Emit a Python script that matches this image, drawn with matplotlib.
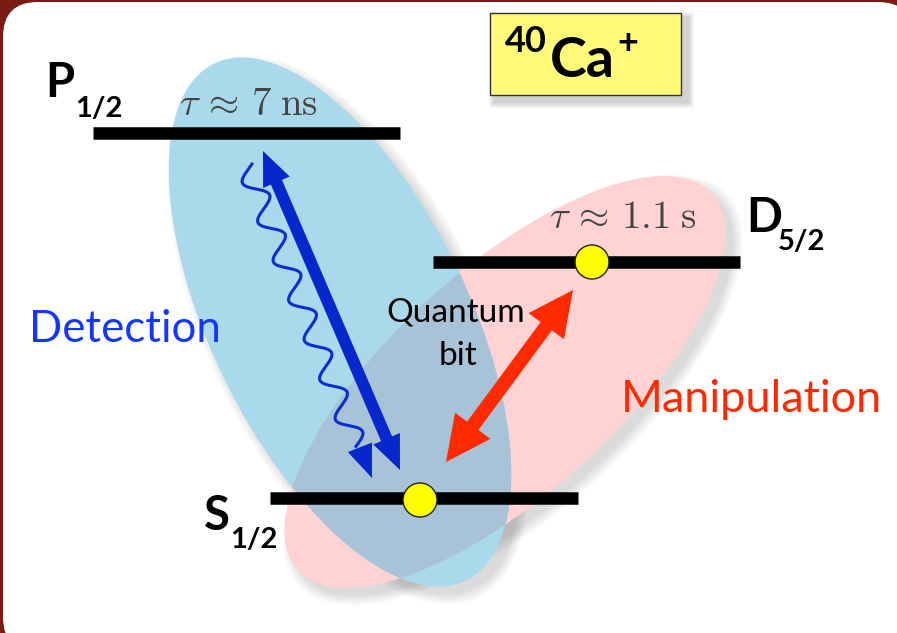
import numpy as np
import matplotlib.pyplot as plt
from matplotlib.patches import Ellipse, Polygon, Circle, Rectangle, FancyBboxPatch

plt.rcParams['mathtext.fontset'] = 'cm'

# energy levels: name, subscript, x start, x end, y (pixel units, y down)
level_names = ['P', 'D', 'S']
level_subs = ['1/2', '5/2', '1/2']
level_x0 = [93, 433, 270]
level_x1 = [400, 740, 578]
level_y = [133, 262, 498]

# lifetimes shown above the levels
lifetime_text = [r'$\tau\,\approx\,7\;\mathrm{ns}$', r'$\tau\,\approx\,1.1\;\mathrm{s}$']
lifetime_xy = [(179, 115), (549, 228)]

# qubit population dots
dot_x = [592, 420]
dot_y = [262, 500]

W, H = 897, 633
fig = plt.figure(figsize=(W / 100, H / 100), dpi=100)
fig.patch.set_facecolor('#7a1c14')
ax = fig.add_axes([0, 0, 1, 1])
ax.set_xlim(0, W)
ax.set_ylim(H, 0)
ax.axis('off')

# white slide panel
panel = FancyBboxPatch((38, 37), 840, 580, boxstyle='round,pad=35',
                       fc='white', ec='none', zorder=0)
panel.set_clip_on(False)
ax.add_patch(panel)

# ellipses: blue = detection, pink = manipulation
blue_kw = dict(xy=(340, 322), width=575, height=258, angle=64)
pink_kw = dict(xy=(505, 382), width=560, height=225, angle=-42.3)

for kw in (pink_kw, blue_kw):
    for i in range(6):
        e = Ellipse((kw['xy'][0] + 8, kw['xy'][1] + 8), kw['width'] + 4 * i,
                    kw['height'] + 4 * i, angle=kw['angle'], fc='black',
                    ec='none', alpha=0.025, zorder=1)
        ax.add_patch(e)

pink = Ellipse(fc='#ffd3d4', ec='none', zorder=2, **pink_kw)
ax.add_patch(pink)
blue = Ellipse(fc='#a9d9eb', ec='none', zorder=3, **blue_kw)
ax.add_patch(blue)
overlap = Ellipse(fc='#a8c3d7', ec='none', zorder=4, **blue_kw)
ax.add_patch(overlap)
overlap.set_clip_path(pink)

# levels
for x0, x1, y in zip(level_x0, level_x1, level_y):
    ax.plot([x0, x1], [y, y], color='black', lw=9, solid_capstyle='butt', zorder=6)

for (x, y), t in zip(lifetime_xy, lifetime_text):
    ax.text(x, y, t, fontsize=28, color='#444444', ha='left', va='baseline', zorder=7)

# level labels
label_pos = [(45, 97, 75, 117), (746, 232, 778, 250), (204, 530, 230, 548)]
for name, sub, (xn, yn, xs, ys) in zip(level_names, level_subs, label_pos):
    ax.text(xn, yn, name, fontsize=34, fontweight='bold', family='Lato',
            ha='left', va='baseline', zorder=7)
    ax.text(xs, ys, sub, fontsize=21, fontweight='bold', family='Lato',
            ha='left', va='baseline', zorder=7)


def double_arrow(p0, p1, shaft, hw, hl, color, z=8):
    p0 = np.array(p0, float)
    p1 = np.array(p1, float)
    d = (p1 - p0) / np.hypot(*(p1 - p0))
    n = np.array([-d[1], d[0]])
    b0 = p0 + d * hl
    b1 = p1 - d * hl
    pts = [p0, b0 + n * hw / 2, b0 + n * shaft / 2, b1 + n * shaft / 2,
           b1 + n * hw / 2, p1, b1 - n * hw / 2, b1 - n * shaft / 2,
           b0 - n * shaft / 2, b0 - n * hw / 2]
    ax.add_patch(Polygon(pts, closed=True, fc=color, ec='none', zorder=z))


# detection laser (blue) and manipulation laser (red)
double_arrow((263, 151), (400, 470), 12, 29, 34, '#0527cc')
double_arrow((573, 290), (446, 462), 14, 44, 45, '#ff2a00')

# fluorescence photon: wavy line with head
a = np.array([247, 166.0])
b = np.array([357, 446.0])
L = np.hypot(*(b - a))
d = (b - a) / L
n = np.array([-d[1], d[0]])
t = np.linspace(0, 1, 400)
wave = 10.5 * np.sin(2 * np.pi * 7.1 * t - np.pi / 6)
path = a[None, :] + t[:, None] * (b - a)[None, :] + wave[:, None] * n[None, :]
ax.plot(path[:, 0], path[:, 1], color='#0a2ed0', lw=2.2, zorder=8)
tip = np.array([372, 478.0])
hb = tip - d * 33
ax.add_patch(Polygon([tip, hb + n * 13, hb - n * 13], closed=True,
                     fc='#0527cc', ec='none', zorder=8))

# qubit dots
for x, y in zip(dot_x, dot_y):
    ax.add_patch(Circle((x, y), 17, fc='#ffff00', ec='#222222', lw=1, zorder=9))

# labels
ax.text(29, 342, 'Detection', fontsize=31.5, color='#1436ff', family='Lato',
        ha='left', va='baseline', zorder=7)
ax.text(621, 412, 'Manipulation', fontsize=32.5, color='#ff2a00', family='Lato',
        ha='left', va='baseline', zorder=7)
ax.text(456, 322, 'Quantum', fontsize=24, color='black', family='Lato',
        ha='center', va='baseline', zorder=7)
ax.text(458, 365, 'bit', fontsize=24, color='black', family='Lato',
        ha='center', va='baseline', zorder=7)

# ion box
for i in range(6):
    ax.add_patch(FancyBboxPatch((496 - i, 19 - i), 191 + 2 * i, 82 + 2 * i,
                                boxstyle='round,pad=2', fc='black', ec='none',
                                alpha=0.03, zorder=9))
ax.add_patch(Rectangle((490, 13), 191, 82, fc='#fffa78', ec='#333333', lw=1, zorder=10))
ax.text(505, 52, '40', fontsize=26, fontweight='bold', family='Lato',
        ha='left', va='baseline', zorder=11)
ax.text(550, 77, 'Ca', fontsize=40, fontweight='bold', family='Lato',
        ha='left', va='baseline', zorder=11)
ax.text(617, 54, '+', fontsize=26, fontweight='bold', family='Lato',
        ha='left', va='baseline', zorder=11)

fig.savefig('out.png', dpi=100, facecolor=fig.get_facecolor())
